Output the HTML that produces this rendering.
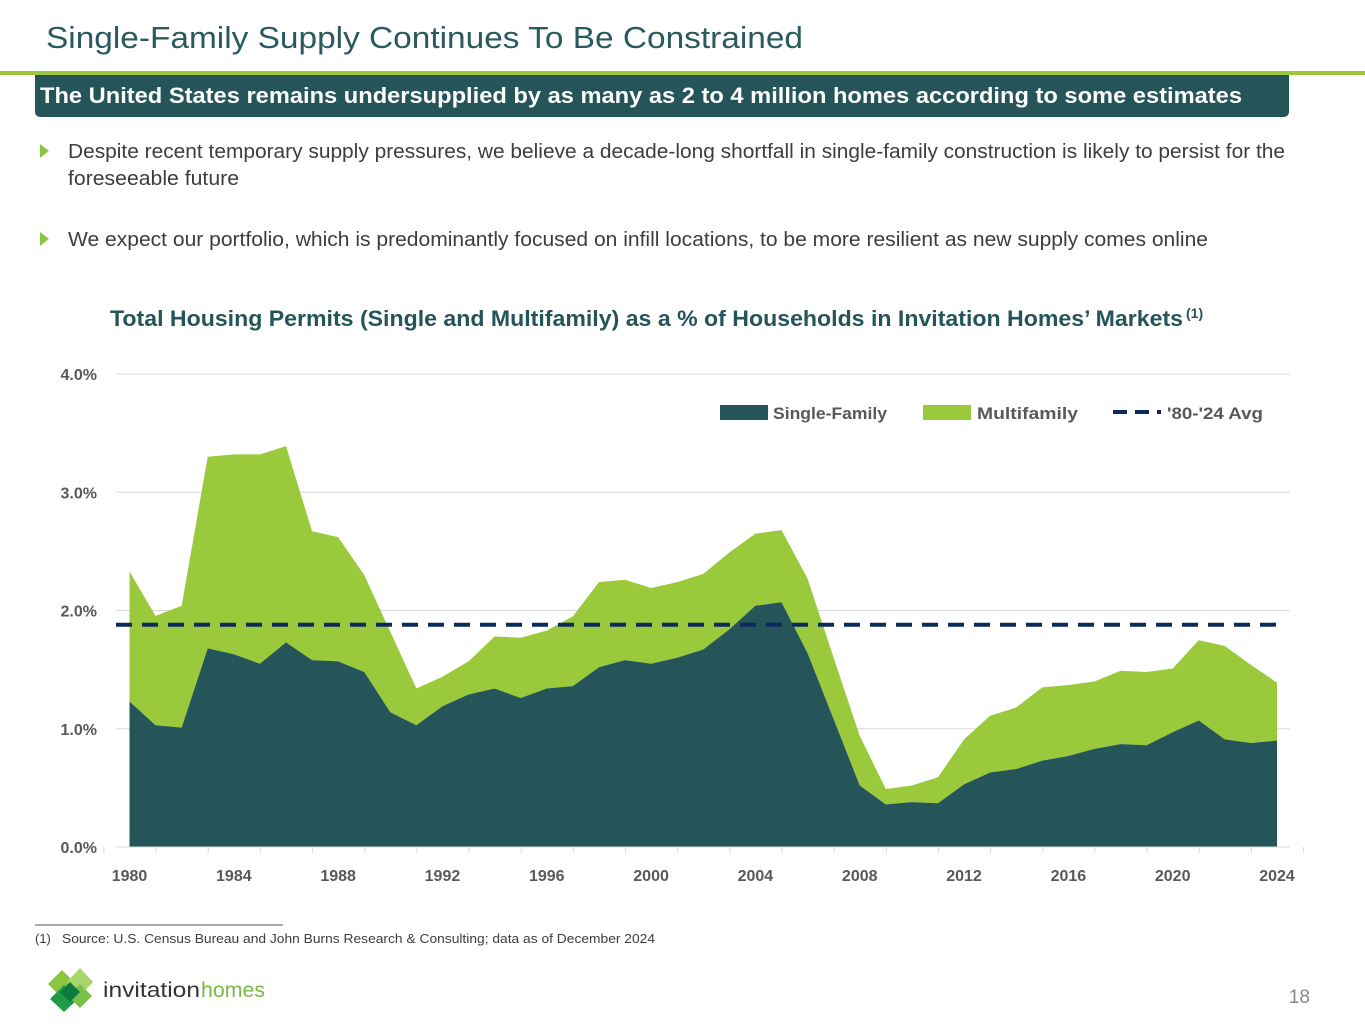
<!DOCTYPE html>
<html><head><meta charset="utf-8"><style>
html,body{margin:0;padding:0;background:#fff;}
svg{display:block;font-family:"Liberation Sans",sans-serif;}
</style></head><body>
<svg id="page" width="1365" height="1024" viewBox="0 0 1365 1024" xmlns="http://www.w3.org/2000/svg">
<text x="46" y="48" font-size="31" fill="#2a5a5e" textLength="757" lengthAdjust="spacingAndGlyphs">Single-Family Supply Continues To Be Constrained</text>
<rect x="0" y="71" width="1365" height="4" fill="#9aca3c"/>
<rect x="35" y="75" width="1254" height="42" rx="5" fill="#255459"/>
<rect x="35" y="75" width="1254" height="8" fill="#255459"/>
<text x="40" y="103" font-size="22" font-weight="bold" fill="#fff" textLength="1202" lengthAdjust="spacingAndGlyphs">The United States remains undersupplied by as many as 2 to 4 million homes according to some estimates</text>
<polygon points="40,144 49,151 40,158" fill="#8cc63f"/>
<text x="68" y="158" font-size="20" fill="#3d3d3d" textLength="1217" lengthAdjust="spacingAndGlyphs">Despite recent temporary supply pressures, we believe a decade-long shortfall in single-family construction is likely to persist for the</text>
<text x="68" y="185" font-size="20" fill="#3d3d3d" textLength="171" lengthAdjust="spacingAndGlyphs">foreseeable future</text>
<polygon points="40,232 49,239 40,246" fill="#8cc63f"/>
<text x="68" y="246" font-size="20" fill="#3d3d3d" textLength="1140" lengthAdjust="spacingAndGlyphs">We expect our portfolio, which is predominantly focused on infill locations, to be more resilient as new supply comes online</text>
<text x="110" y="326" font-size="22" font-weight="bold" fill="#255459" textLength="1073" lengthAdjust="spacingAndGlyphs">Total Housing Permits (Single and Multifamily) as a % of Households in Invitation Homes’ Markets</text>
<text x="1186" y="318" font-size="14" font-weight="bold" fill="#255459">(1)</text>
<g id="chart"></g>
<line x1="35" y1="925" x2="283" y2="925" stroke="#555" stroke-width="1"/>
<text x="35" y="943" font-size="13" fill="#3d3d3d">(1)</text>
<text x="62" y="943" font-size="13" fill="#3d3d3d" textLength="593" lengthAdjust="spacingAndGlyphs">Source: U.S. Census Bureau and John Burns Research &amp; Consulting; data as of December 2024</text>
<g>
<polygon points="62,970 76,984 62,998 48,984" fill="#8cc63f"/>
<polygon points="80,968 93,982 80,996 67,982" fill="#a9d46b"/>
<polygon points="64,985 78,999 64,1012 50,999" fill="#1f9a48"/>
<polygon points="80,984 92,996 80,1008 68,996" fill="#7cc04a"/>
<polygon points="70,982 80,992 70,1002 60,992" fill="#0e7a3b"/>
<text x="103" y="997" font-size="21" fill="#333" textLength="97" lengthAdjust="spacingAndGlyphs">invitation</text>
<text x="201" y="997" font-size="21" fill="#7ab648" textLength="64" lengthAdjust="spacingAndGlyphs">homes</text>
</g>
<text x="1310" y="1003" font-size="19" fill="#8a8a8a" text-anchor="end">18</text>
</svg>
<script>
const years = [1980,1981,1982,1983,1984,1985,1986,1987,1988,1989,1990,1991,1992,1993,1994,1995,1996,1997,1998,1999,2000,2001,2002,2003,2004,2005,2006,2007,2008,2009,2010,2011,2012,2013,2014,2015,2016,2017,2018,2019,2020,2021,2022,2023,2024];
const singleFamily = [1.23,1.03,1.01,1.68,1.63,1.55,1.73,1.58,1.57,1.48,1.14,1.03,1.19,1.29,1.34,1.26,1.34,1.36,1.52,1.58,1.55,1.60,1.67,1.84,2.04,2.07,1.64,1.08,0.52,0.36,0.38,0.37,0.53,0.63,0.66,0.73,0.77,0.83,0.87,0.86,0.97,1.07,0.91,0.88,0.90];
const totalPermits = [2.33,1.955,2.04,3.30,3.32,3.32,3.39,2.67,2.62,2.30,1.82,1.34,1.44,1.57,1.78,1.77,1.83,1.95,2.24,2.26,2.19,2.24,2.31,2.49,2.65,2.68,2.27,1.60,0.94,0.49,0.52,0.59,0.91,1.11,1.18,1.35,1.37,1.40,1.49,1.48,1.51,1.75,1.70,1.54,1.39];
const avgValue = [1.88];
const yTicks = [0,1,2,3,4];
const yTickLabels = ["0.0%","1.0%","2.0%","3.0%","4.0%"];
const xTickYears = [1980,1984,1988,1992,1996,2000,2004,2008,2012,2016,2020,2024];

const NS="http://www.w3.org/2000/svg";
const g=document.getElementById('chart');
const x0=129.5,x1=1277,y0=847,y1=374;
const xs=yr=>x0+(yr-1980)*(x1-x0)/44;
const ys=v=>y0-v*(y0-y1)/4;
function mk(tag,attrs){const e=document.createElementNS(NS,tag);for(const k in attrs)e.setAttribute(k,attrs[k]);g.appendChild(e);return e;}

yTicks.forEach((t,i)=>{
  if(t>0){const l=mk('line',{x1:116,x2:1290,y1:ys(t),y2:ys(t),stroke:'#d9d9d9','stroke-width':1});
  
  }
  const tx=mk('text',{x:97,y:ys(t)+6,'text-anchor':'end','font-size':16,'font-weight':'bold',fill:'#595959'});
  tx.textContent=yTickLabels[i];
  
  
});
let mfPts=years.map((y,i)=>xs(y)+','+ys(totalPermits[i]));
let sfPts=years.map((y,i)=>xs(y)+','+ys(singleFamily[i]));
const mf=mk('polygon',{points:mfPts.concat(sfPts.slice().reverse()).join(' '),fill:'#9aca3c'});


const sf=mk('polygon',{points:sfPts.concat([xs(2024)+','+y0,xs(1980)+','+y0]).join(' '),fill:'#255459'});


const axis=mk('line',{x1:116,x2:1290,y1:y0,y2:y0,stroke:'#d9d9d9','stroke-width':1});


for(let yr=1979;yr<=2025;yr+=2){const tk=mk('line',{x1:xs(yr)+0.5,x2:xs(yr)+0.5,y1:y0,y2:y0+6,stroke:'#d9d9d9'});

}
xTickYears.forEach(yr=>{const t=mk('text',{x:xs(yr),y:881,'text-anchor':'middle','font-size':16,'font-weight':'bold',fill:'#595959'});t.textContent=yr;

});
const avg=mk('line',{x1:116,x2:1278,y1:ys(avgValue[0]),y2:ys(avgValue[0]),stroke:'#0c2a5b','stroke-width':4,'stroke-dasharray':'16,10'});


// legend
const l1=mk('rect',{x:720,y:405,width:48,height:15,fill:'#255459'});


const t1=mk('text',{x:773,y:419,'font-size':17,'font-weight':'bold',fill:'#595959',textLength:114,lengthAdjust:'spacingAndGlyphs'});t1.textContent='Single-Family';


const l2=mk('rect',{x:923,y:405,width:48,height:15,fill:'#9aca3c'});


const t2=mk('text',{x:977,y:419,'font-size':17,'font-weight':'bold',fill:'#595959',textLength:101,lengthAdjust:'spacingAndGlyphs'});t2.textContent='Multifamily';


const l3=mk('line',{x1:1113,x2:1161,y1:412,y2:412,stroke:'#0c2a5b','stroke-width':4,'stroke-dasharray':'14,8'});


const t3=mk('text',{x:1167,y:419,'font-size':17,'font-weight':'bold',fill:'#595959',textLength:96,lengthAdjust:'spacingAndGlyphs'});t3.textContent="'80-'24 Avg";


</script>
</body></html>
